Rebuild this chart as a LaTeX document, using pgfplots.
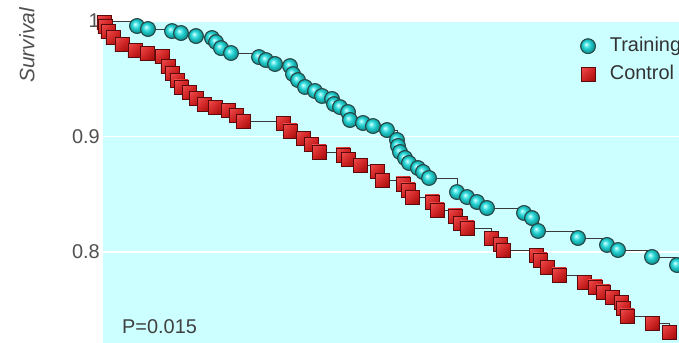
\documentclass[border=0pt]{standalone}
\usepackage{pgfplots}
\pgfplotsset{compat=1.18}
\usepackage{pgfplotstable}
\usetikzlibrary{shadings}
\usepackage{fontspec}
\setmainfont{Liberation Sans}

\definecolor{panel}{HTML}{CCFFFF}
\definecolor{stepline}{HTML}{3A3A3A}
\definecolor{labelgray}{HTML}{505050}
\definecolor{cyanhi}{HTML}{E6FFFF}
\definecolor{cyanlight}{HTML}{80F2F2}
\definecolor{cyanmid}{HTML}{24CFCF}
\definecolor{cyandark}{HTML}{0C8A8A}
\definecolor{cyanedge}{HTML}{1E4E4E}
\definecolor{sqmid}{HTML}{D42020}
\definecolor{sqlight}{HTML}{F05050}
\definecolor{sqdark}{HTML}{A00C0C}
\definecolor{sqedge}{HTML}{5A0A0A}

% sphere shading with the highlight up and to the left
\pgfdeclareradialshading{cyansphere}{\pgfpoint{-7bp}{7bp}}{%
  color(0bp)=(cyanhi); color(5bp)=(cyanlight); color(13bp)=(cyanmid);
  color(27bp)=(cyandark); color(50bp)=(cyandark)}

% shaded sphere with a thin dark rim; all lengths carry units, so they
% stay in canvas space inside the axis
\pgfdeclareplotmark{tdisc}{%
  \shade[shading=cyansphere] (0pt,0pt) circle [radius=\the\pgfplotmarksize];
  \draw[cyanedge, line width=0.6bp] (0pt,0pt) circle [radius=\the\pgfplotmarksize];
}
% shaded square with a dark rim
\pgfdeclareplotmark{csquare}{%
  \shade[upper left=sqlight, upper right=sqmid, lower left=sqmid, lower right=sqdark]
    (-\pgfplotmarksize,-\pgfplotmarksize) rectangle (\pgfplotmarksize,\pgfplotmarksize);
  \draw[sqedge, line width=0.6bp]
    (-\pgfplotmarksize,-\pgfplotmarksize) rectangle (\pgfplotmarksize,\pgfplotmarksize);
}

% Kaplan-Meier estimates: time (plot units) and survival
\pgfplotstableread{
x v
103 1.0
137 0.9957
148 0.9931
172 0.9913
181 0.9896
196 0.9870
212 0.9853
216 0.9818
221 0.9766
231 0.9723
259 0.9688
266 0.9662
275 0.9628
290 0.9610
293 0.9541
298 0.9489
305 0.9429
315 0.9394
322 0.9351
332 0.9325
334 0.9281
340 0.9255
348 0.9212
350 0.9143
363 0.9117
373 0.9091
387 0.9056
397 0.8970
398 0.8918
400 0.8866
405 0.8814
409 0.8771
418 0.8727
423 0.8693
429 0.8641
457 0.8519
467 0.8476
477 0.8433
487 0.8381
524 0.8338
532 0.8294
538 0.8182
578 0.8121
607 0.8061
618 0.8017
652 0.7957
677 0.7887
}\training

\pgfplotstableread{
x v
103 1.0
104 0.9991
105 0.9957
108 0.9913
113 0.9861
122 0.9801
135 0.9749
147 0.9723
162 0.9697
168 0.9610
172 0.9550
177 0.9489
181 0.9429
189 0.9385
196 0.9333
204 0.9281
215 0.9255
228 0.9229
236 0.9186
243 0.9134
283 0.9117
290 0.9048
303 0.8987
311 0.8935
319 0.8866
343 0.8840
348 0.8805
360 0.8753
377 0.8701
382 0.8623
403 0.8589
408 0.8537
412 0.8476
432 0.8433
437 0.8364
455 0.8312
460 0.8251
467 0.8208
491 0.8121
500 0.8069
503 0.8017
536 0.7974
540 0.7931
547 0.7870
559 0.7801
584 0.7740
595 0.7697
603 0.7654
612 0.7610
621 0.7567
623 0.7515
627 0.7446
652 0.7385
669 0.7307
}\control

\begin{document}
\begin{tikzpicture}
\begin{axis}[
  scale only axis,
  width=576bp, height=323bp,
  xmin=103, xmax=679,
  ymin=0.7212, ymax=1.0009,
  clip=false,
  axis line style={draw=none},
  axis background/.style={fill=panel},
  major tick length=0pt,
  xtick=\empty,
  ytick={0.8,0.9,1},
  ymajorgrids,
  grid style={white, line width=1.6bp},
  /pgf/number format/assume math mode=true,
  yticklabel style={font=\fontsize{20}{23}\selectfont, text=labelgray, inner sep=3bp},
  ylabel={Survival},
  every axis y label/.style={at={(rel axis cs:0,1)}, xshift=-76bp, yshift=12bp,
    rotate=90, anchor=east, inner sep=0pt,
    font=\fontsize{21}{24}\selectfont\itshape, text=labelgray},
  legend style={draw=none, fill=none, at={(axis cs:580,0.9862)}, anchor=north west,
    font=\fontsize{20}{23}\selectfont, text=black!80, row sep=10bp, inner sep=0pt,
    nodes={inner xsep=2bp, inner ysep=0pt, text height=14bp, text depth=4bp},
    /tikz/every odd column/.style={column sep=12bp}},
  legend cell align=left,
  legend image code/.code={\draw[#1, only marks, mark phase=1]
    plot coordinates {(8bp,0bp)};},
]
% step curves, a mark at every event (the starting point carries none)
\addplot[const plot, stepline, line width=0.9bp, mark=tdisc, mark size=7.4bp,
  mark phase=2, mark options={solid}] table[x=x, y=v] {\training};
\addlegendentry{Training}
\addplot[const plot, stepline, line width=0.9bp, mark=csquare, mark size=7bp,
  mark phase=2, mark options={solid}] table[x=x, y=v] {\control};
\addlegendentry{Control}
\node[anchor=west, inner sep=0pt, text=black!75, font=\fontsize{20}{23}\selectfont]
  at (axis cs:122,0.7351) {P=0.015};
\end{axis}
\pgfresetboundingbox
\path ([xshift=-103bp]current axis.south west) rectangle ([yshift=20bp]current axis.north east);
\end{tikzpicture}
\end{document}
